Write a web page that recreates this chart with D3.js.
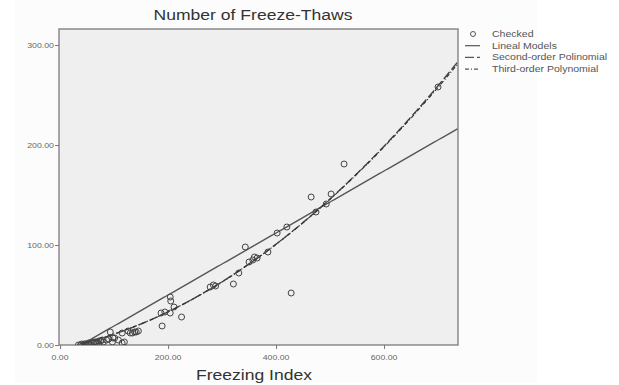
<!DOCTYPE html>
<html>
<head>
<meta charset="utf-8">
<script src="https://cdn.jsdelivr.net/npm/d3@7"></script>
<style>
  body { margin: 0; background: #fff; }
  svg text { font-family: Arial, "Liberation Sans", sans-serif; }
</style>
</head>
<body>
<div id="chart"></div>
<script>
'use strict';

// observed points: freezing index vs number of freeze-thaws
const freezingIndex = [
  34, 38, 40, 42, 45, 47, 50, 53, 55, 58, 61, 63, 66, 68, 72, 75, 78, 80, 86, 90,
  93, 97, 98, 101, 108, 115, 115, 119, 126, 130, 134, 138, 141, 145,
  187, 189, 194, 204, 204, 205, 211, 225,
  278, 284, 288, 321, 331, 343, 350, 357, 360, 365, 385,
  402, 420, 428, 465, 474, 493, 502, 526, 700
];
const freezeThaws = [
  0, 0, 1, 0, 1, 1, 1, 2, 1, 2, 2, 3, 3, 2, 4, 4, 5, 3, 5, 6,
  13, 3, 7, 7, 5, 12, 2, 3, 14, 12, 12, 13, 13, 14,
  32, 19, 33, 48, 32, 44, 38, 28,
  58, 60, 59, 61, 72, 98, 83, 85, 88, 87, 93,
  112, 118, 52, 148, 133, 141, 151, 181, 258
];

// fitted models (coefficients)
const linearCoef = [-12, 0.31];
const quadCoef = [-4, 0.11, 0.00038];
const cubicCoef = [-3, 0.1, 0.00041, -0.00000003];

const xTicks = [0, 200, 400, 600];
const yTicks = [0, 100, 200, 300];

const legendLabels = ['Checked', 'Lineal Models', 'Second-order Polinomial', 'Third-order Polynomial'];

const W = 619, H = 385;
const frame = { left: 59, right: 458, top: 29, bottom: 345 };
const stretch = 1.17;   // the source picture is widened a little

const x = d3.scaleLinear().domain([-2, 737]).range([frame.left, frame.right]);
const y = d3.scaleLinear().domain([0, 316]).range([frame.bottom, frame.top]);

function poly( coef ) {
    return function( v ) { return coef.reduce(function( s, c, i ) { return s + c * Math.pow(v, i); }, 0); };
}

// text placed at (tx,ty) and stretched horizontally like the source
function wideText( parent, tx, ty, size, anchor, label ) {
    return parent.append('g')
        .attr('transform', 'translate(' + tx + ',' + ty + ') scale(' + stretch + ',1)')
        .append('text')
        .attr('text-anchor', anchor)
        .attr('font-size', size)
        .text(label);
}

const svg = d3.select('#chart').append('svg')
    .attr('width', W).attr('height', H);

svg.append('rect')
    .attr('x', 15).attr('y', 0).attr('width', 522).attr('height', 383)
    .attr('fill', '#fcfcfc');

svg.append('defs').append('clipPath').attr('id', 'plotclip')
    .append('rect')
    .attr('x', frame.left).attr('y', frame.top)
    .attr('width', frame.right - frame.left).attr('height', frame.bottom - frame.top);

svg.append('rect')
    .attr('x', frame.left).attr('y', frame.top)
    .attr('width', frame.right - frame.left).attr('height', frame.bottom - frame.top)
    .attr('fill', '#efefef')
    .attr('stroke', '#8a8a8a')
    .attr('stroke-width', 1.5);

// axes
const fmt = d3.format('.2f');
const xAxis = d3.axisBottom(x).tickValues(xTicks).tickSize(4).tickFormat('');
const yAxis = d3.axisLeft(y).tickValues(yTicks).tickSize(4).tickFormat('');

const gx = svg.append('g').attr('transform', 'translate(0,' + frame.bottom + ')').call(xAxis);
const gy = svg.append('g').attr('transform', 'translate(' + frame.left + ',0)').call(yAxis);

[gx, gy].forEach(function( g ) {
    g.select('.domain').remove();
    g.selectAll('.tick line').attr('stroke', '#777');
});

const tickLabels = svg.append('g').attr('fill', '#666');
xTicks.forEach(function( t ) {
    wideText(tickLabels, x(t), 360, '7.5px', 'middle', fmt(t));
});
yTicks.forEach(function( t ) {
    wideText(tickLabels, frame.left - 5, y(t) + 2.5, '7.5px', 'end', fmt(t));
});

// fit lines
const lineGroup = svg.append('g').attr('clip-path', 'url(#plotclip)');
const xs = d3.range(40, 738, 4);

const fits = [
    { f: poly(linearCoef), dash: null, width: 1.4, color: '#555' },
    { f: poly(quadCoef), dash: '9,3', width: 1.4, color: '#444' },
    { f: poly(cubicCoef), dash: '4,2,1,2', width: 1.2, color: '#333' }
];

fits.forEach(function( fit ) {
    lineGroup.append('path')
        .datum(xs)
        .attr('fill', 'none')
        .attr('stroke', fit.color)
        .attr('stroke-width', fit.width)
        .attr('stroke-dasharray', fit.dash)
        .attr('d', d3.line().x(function( d ) { return x(d); }).y(function( d ) { return y(fit.f(d)); }));
});

// observed points
svg.append('g')
    .attr('clip-path', 'url(#plotclip)')
    .selectAll('circle')
    .data(freezingIndex)
    .enter()
        .append('circle')
        .attr('cx', function( d ) { return x(d); })
        .attr('cy', function( d, i ) { return y(freezeThaws[i]); })
        .attr('r', 3)
        .attr('fill', 'none')
        .attr('stroke', '#444')
        .attr('stroke-width', 1);

// titles
const titles = svg.append('g').attr('fill', '#333');
wideText(titles, 253, 20, '15px', 'middle', 'Number of Freeze-Thaws');
wideText(titles, 254, 380, '15px', 'middle', 'Freezing Index');

// legend
const legend = svg.append('g').attr('transform', 'translate(465,34)').attr('fill', '#555');
const rowH = 11.7;

legendLabels.forEach(function( label, i ) {
    wideText(legend, 27, i * rowH + 3, '9px', 'start', label);
});

legend.append('circle')
    .attr('cx', 8).attr('cy', 0).attr('r', 2.5)
    .attr('fill', 'none').attr('stroke', '#555');

[null, '9,3', '4,2,1,2'].forEach(function( dash, i ) {
    legend.append('line')
        .attr('x1', 0).attr('x2', 15)
        .attr('y1', (i + 1) * rowH).attr('y2', (i + 1) * rowH)
        .attr('stroke', '#555')
        .attr('stroke-width', 1.2)
        .attr('stroke-dasharray', dash);
});
</script>
</body>
</html>
